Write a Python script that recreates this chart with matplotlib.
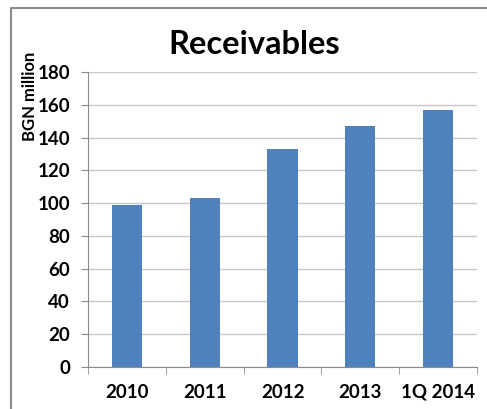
import matplotlib.pyplot as plt
from matplotlib.lines import Line2D
import numpy as np

categories = ["2010", "2011", "2012", "2013", "1Q 2014"]
values = [99, 103, 133, 147, 157]
yticks = [0, 20, 40, 60, 80, 100, 120, 140, 160, 180]

plt.rcParams['font.family'] = ['Lato', 'DejaVu Sans']

fig = plt.figure(figsize=(4.87, 4.09), dpi=100)
ax = fig.add_axes([88/487, 1-367/409, (477-88)/487, (367-72)/409])

x = np.arange(len(categories))
ax.bar(x, values, width=0.39, color='#4f81bd', zorder=3)

ax.set_xlim(-0.5, len(categories)-0.5)
ax.set_ylim(0, 180)
ax.set_yticks(yticks)
ax.set_yticklabels([str(t) for t in yticks], fontsize=13.5, fontweight='bold')
ax.set_xticks(x)
ax.set_xticklabels(categories, fontsize=13.5, fontweight='bold')
ax.set_xticks(np.arange(len(categories)+1)-0.5, minor=True)
ax.tick_params(axis='x', which='major', length=0, pad=12)
ax.tick_params(axis='x', which='minor', length=5, color='#8c8c8c')
ax.tick_params(axis='y', length=5, color='#8c8c8c', pad=8)
ax.grid(axis='y', color='#c8c8c8', linewidth=1, zorder=0)

for s in ['top', 'right']:
    ax.spines[s].set_visible(False)
for s in ['left', 'bottom']:
    ax.spines[s].set_color('#8c8c8c')

fig.text(254/487, 1-44/409, "Receivables", fontsize=23.5, fontweight='bold',
         ha='center', va='center')
fig.text(30/487, 1-96/409, "BGN million", fontsize=12, fontweight='bold',
         rotation=90, ha='center', va='center')

# outer frame (top and left edges)
fig.add_artist(Line2D([11/487, 11/487, 1], [0, 1-8/409, 1-8/409],
                      transform=fig.transFigure, color='#8c8c8c', linewidth=1.5))

fig.savefig("out.png", dpi=100)
